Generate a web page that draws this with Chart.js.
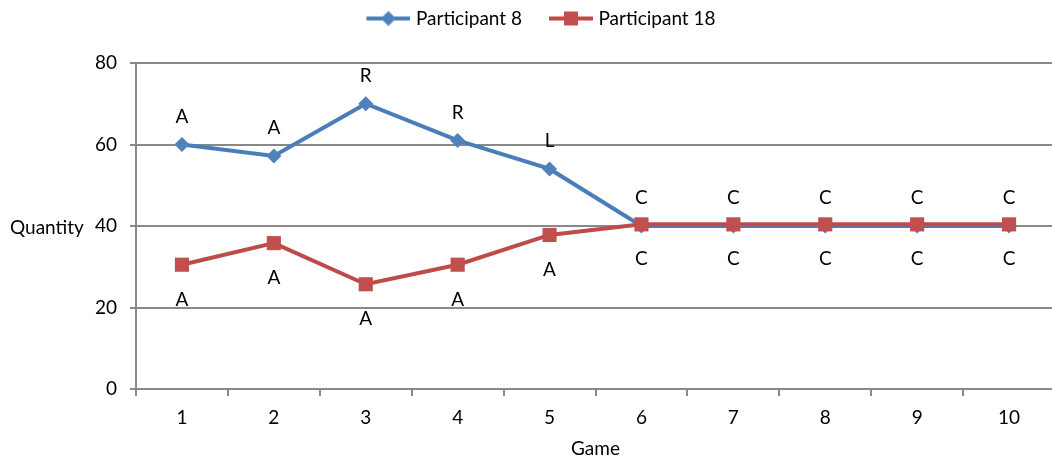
<!DOCTYPE html>
<html>
<head>
<meta charset="utf-8">
<script src="https://cdn.jsdelivr.net/npm/chart.js@4.4.1/dist/chart.umd.min.js"></script>
<style>
  html, body { margin: 0; padding: 0; background: #fff; overflow: hidden; }
  #wrap { position: relative; width: 1065px; height: 462px; }
</style>
</head>
<body>
<div id="wrap"><canvas id="c"></canvas></div>
<script>
// Game numbers on the x axis
const games = ['1', '2', '3', '4', '5', '6', '7', '8', '9', '10'];
// Quantity chosen in each game
const participant8 = [60, 57.2, 70, 61, 54, 40, 40, 40, 40, 40];
const participant18 = [30.5, 35.8, 25.7, 30.5, 37.8, 40.4, 40.4, 40.4, 40.4, 40.4];
// Strategy letter shown beside each point
const letters8 = ['A', 'A', 'R', 'R', 'L', 'C', 'C', 'C', 'C', 'C'];
const letters18 = ['A', 'A', 'A', 'A', 'A', 'C', 'C', 'C', 'C', 'C'];
// Quantity axis
const yMin = 0, yMax = 80, yStep = 20;

const FONT = 'Lato, "Open Sans", sans-serif';
const FS = 19;
const BLUE_LINE = '#4A7EBB', BLUE_MARK = '#4F81BD';
const RED_LINE = '#BE4B48', RED_MARK = '#C0504D';
const GRID = '#898989';

// Legend swatch: short line with the series marker in the middle,
// drawn on the right part of the image so there is room before it
function swatch(lineColor, markColor, shape) {
  const cv = document.createElement('canvas');
  cv.width = 66; cv.height = 16;
  const g = cv.getContext('2d');
  g.strokeStyle = lineColor; g.lineWidth = 4;
  g.beginPath(); g.moveTo(22, 8); g.lineTo(66, 8); g.stroke();
  g.fillStyle = markColor;
  if (shape === 'diamond') {
    g.beginPath(); g.moveTo(44, 0.5); g.lineTo(51.5, 8); g.lineTo(44, 15.5); g.lineTo(36.5, 8); g.closePath(); g.fill();
  } else {
    g.fillRect(37, 1, 14, 14);
  }
  return cv;
}
const swatches = [swatch(BLUE_LINE, BLUE_MARK, 'diamond'), swatch(RED_LINE, RED_MARK, 'square')];

// Letters drawn above / below every point
const pointLetters = {
  id: 'pointLetters',
  afterDatasetsDraw(chart) {
    const ctx = chart.ctx;
    ctx.save();
    ctx.font = FS + 'px ' + FONT;
    ctx.fillStyle = '#000';
    ctx.textAlign = 'center';
    ctx.textBaseline = 'middle';
    chart.data.datasets.forEach((ds, i) => {
      const meta = chart.getDatasetMeta(i);
      meta.data.forEach((pt, j) => {
        ctx.fillText(ds.letters[j], pt.x, pt.y + ds.letterOffset);
      });
    });
    ctx.restore();
  }
};

// Horizontal y-axis title on the left
const sideTitle = {
  id: 'sideTitle',
  afterDraw(chart) {
    const ctx = chart.ctx, a = chart.chartArea;
    ctx.save();
    ctx.font = FS + 'px ' + FONT;
    ctx.fillStyle = '#000';
    ctx.textAlign = 'left';
    ctx.textBaseline = 'middle';
    ctx.fillText('Quantity', 10, (a.top + a.bottom) / 2 + 2);
    ctx.restore();
  }
};

// Keep the legend at the very top, leaving a gap above the plot
const legendToTop = {
  id: 'legendToTop',
  afterLayout(chart) {
    const lg = chart.legend;
    if (lg) { const h = lg.height; lg.top = 0; lg.bottom = h; }
  }
};

new Chart(document.getElementById('c'), {
  type: 'line',
  data: {
    labels: games,
    datasets: [
      {
        label: 'Participant 8',
        data: participant8,
        letters: letters8,
        letterOffset: -28,
        borderColor: BLUE_LINE,
        backgroundColor: BLUE_MARK,
        borderWidth: 4,
        pointStyle: 'rectRot',
        pointRadius: 7.5,
        pointBorderWidth: 0,
        pointBackgroundColor: BLUE_MARK,
        tension: 0,
        order: 2
      },
      {
        label: 'Participant 18',
        data: participant18,
        letters: letters18,
        letterOffset: 35,
        borderColor: RED_LINE,
        backgroundColor: RED_MARK,
        borderWidth: 4,
        pointStyle: 'rect',
        pointRadius: 10,
        pointBorderWidth: 0,
        pointBackgroundColor: RED_MARK,
        tension: 0,
        order: 1
      }
    ]
  },
  options: {
    responsive: true,
    maintainAspectRatio: false,
    animation: false,
    layout: { padding: { left: 0, right: 1, top: 0, bottom: 0 } },
    plugins: {
      tooltip: { enabled: false },
      legend: {
        position: 'top',
        labels: {
          usePointStyle: true,
          pointStyleWidth: 58,
          padding: 9,
          color: '#000',
          font: { family: FONT, size: FS },
          sort: (a, b) => a.datasetIndex - b.datasetIndex,
          generateLabels(chart) {
            const items = Chart.defaults.plugins.legend.labels.generateLabels(chart);
            items.forEach(it => { it.pointStyle = swatches[it.datasetIndex]; });
            return items;
          }
        }
      }
    },
    scales: {
      x: {
        offset: true,
        grid: { offset: true, drawOnChartArea: false, drawTicks: true, tickLength: 7, color: GRID, lineWidth: 2 },
        border: { color: GRID, width: 2 },
        ticks: { color: '#000', font: { family: FONT, size: FS }, padding: 10, maxRotation: 0 },
        title: { display: true, text: 'Game', color: '#000', font: { family: FONT, size: FS }, padding: { top: 4, bottom: 2 } },
        afterFit(scale) { scale.height = 73; }
      },
      y: {
        min: yMin, max: yMax,
        ticks: { stepSize: yStep, color: '#000', font: { family: FONT, size: FS }, padding: 13 },
        grid: { color: GRID, lineWidth: 2, tickLength: 6, drawTicks: true },
        border: { color: GRID, width: 2 },
        afterFit(scale) { scale.width = 136; scale.paddingTop = 63; }
      }
    }
  },
  plugins: [pointLetters, sideTitle, legendToTop]
});
</script>
</body>
</html>
